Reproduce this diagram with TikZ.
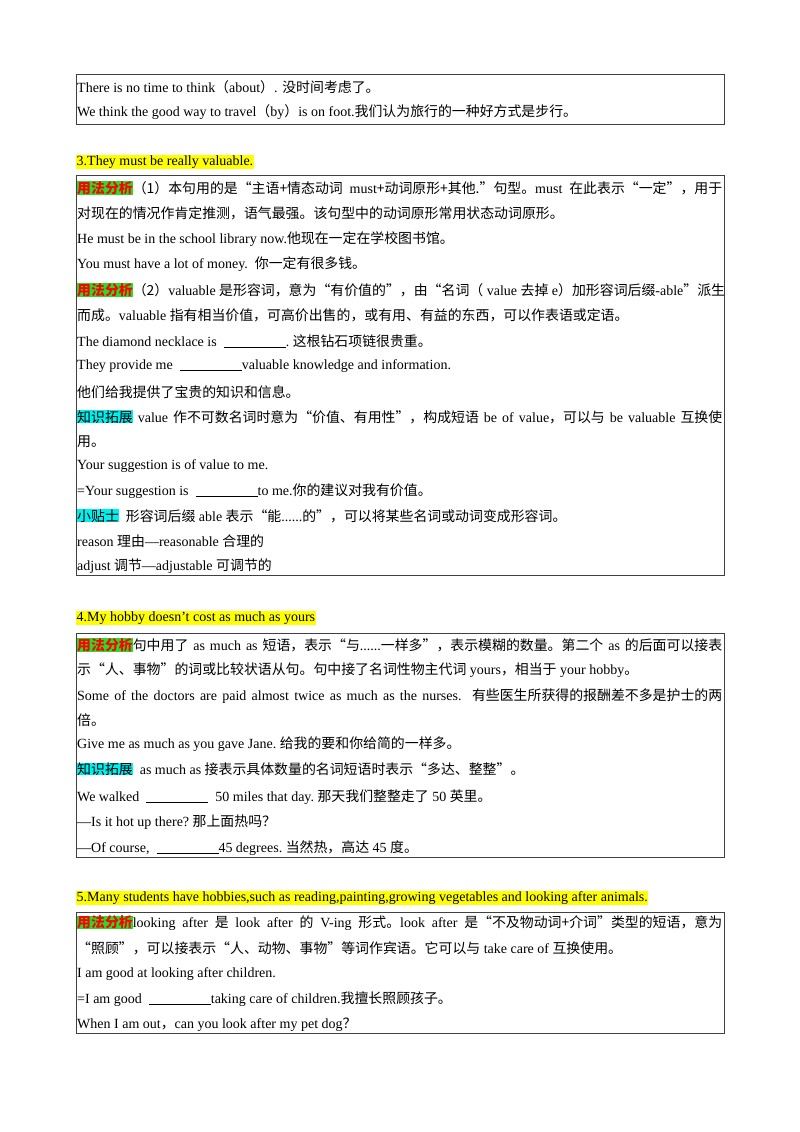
\documentclass[tikz,border=0pt]{standalone}
\usepackage{fontspec}
\setmainfont{Liberation Serif}
\newfontfamily\cjk{Noto Sans CJK SC}
\definecolor{hlg}{RGB}{40,220,40}
\definecolor{hlc}{RGB}{0,240,240}
\definecolor{hly}{RGB}{255,255,0}
\newcommand\z[1]{{\cjk\fontsize{13.9}{15}\selectfont #1}}
\newcommand\yf{{\setlength\fboxsep{0pt}\colorbox{hlg}{\textcolor{red}{\z{\bfseries 用法分析}}}}}
\newcommand\zs{{\setlength\fboxsep{0pt}\colorbox{hlc}{\z{知识拓展}}}}
\newcommand\xt{{\setlength\fboxsep{0pt}\colorbox{hlc}{\z{小贴士}}}}
\newcommand\bl{\rule[-1.5pt]{62pt}{0.7pt}}
\newcommand\J[1]{\makebox[645pt][s]{#1}}
\newcounter{ln}
\newcommand\Ln[2]{\stepcounter{ln}\node[ln] (l\arabic{ln}) at (77,#1) {#2};}
\tikzset{ln/.style={anchor=west,inner sep=0pt,font=\fontsize{14}{15}\selectfont},
  hd/.style={anchor=west,inner sep=0.5pt,fill=hly,font=\fontsize{14}{15}\selectfont},
  bx/.style={draw=black!75,line width=0.9pt}}
\begin{document}
\begin{tikzpicture}[x=1pt,y=-1pt]
\useasboundingbox[fill=white] (0,0) rectangle (800,1132);
% box 1
\draw[bx] (76,74) rectangle (724,124);
\Ln{87}{There is no time to think\z{（}about\z{）}. \z{没时间考虑了。}}
\Ln{112}{We think the good way to travel\z{（}by\z{）}is on foot.\z{我们认为旅行的一种好方式是步行。}}
% heading 3
\node[hd] (h3) at (76,162) {3.They must be really valuable.};
\draw[bx] (76,175) rectangle (724,575);
\Ln{188}{\J{\yf\z{（1）本句用的是“主语+情态动词} must\z{+动词原形+其他.”句型。}must \z{在此表示“一定”，用于}}}
\Ln{213}{\z{对现在的情况作肯定推测，语气最强。该句型中的动词原形常用状态动词原形。}}
\Ln{239}{He must be in the school library now.\z{他现在一定在学校图书馆。}}
\Ln{264}{You must have a lot of money.\ \ \z{你一定有很多钱。}}
\Ln{290}{\yf\z{（2）}valuable \z{是形容词，意为“有价值的”，由“名词（} value \z{去掉} e\z{）加形容词后缀}-able\z{”派生}}
\Ln{315}{\z{而成。}valuable \z{指有相当价值，可高价出售的，或有用、有益的东西，可以作表语或定语。}}
\Ln{341}{The diamond necklace is \ \bl.\ \z{这根钻石项链很贵重。}}
\Ln{366}{They provide me \ \bl valuable knowledge and information.}
\Ln{392}{\z{他们给我提供了宝贵的知识和信息。}}
\Ln{417}{\J{\zs\ value \z{作不可数名词时意为“价值、有用性”，构成短语} be of value\z{，可以与} be valuable \z{互换使}}}
\Ln{442}{\z{用。}}
\Ln{466}{Your suggestion is of value to me.}
\Ln{491}{=Your suggestion is \ \bl to me.\z{你的建议对我有价值。}}
\Ln{516}{\xt\ \ \z{形容词后缀} able \z{表示“能}......\z{的”，可以将某些名词或动词变成形容词。}}
\Ln{541}{reason \z{理由}---reasonable \z{合理的}}
\Ln{566}{adjust \z{调节}---adjustable \z{可调节的}}
% heading 4
\node[hd] (h4) at (76,618) {4.My hobby doesn’t cost as much as yours};
\draw[bx] (76,633) rectangle (724,857);
\Ln{645}{\J{\yf\z{句中用了} as much as \z{短语，表示“与}......\z{一样多”，表示模糊的数量。第二个} as \z{的后面可以接表}}}
\Ln{670}{\z{示“人、事物”的词或比较状语从句。句中接了名词性物主代词} yours\z{，相当于} your hobby\z{。}}
\Ln{696}{\J{Some of the doctors are paid almost twice as much as the nurses.\ \ \z{有些医生所获得的报酬差不多是护士的两}}}
\Ln{720}{\z{倍。}}
\Ln{744}{Give me as much as you gave Jane.\ \z{给我的要和你给简的一样多。}}
\Ln{769}{\zs\ \ as much as \z{接表示具体数量的名词短语时表示“多达、整整”。}}
\Ln{797}{We walked \ \bl\ \ 50 miles that day.\ \z{那天我们整整走了} 50 \z{英里。}}
\Ln{822}{---Is it hot up there?\ \z{那上面热吗？}}
\Ln{848}{---Of course,\ \ \bl 45 degrees.\ \z{当然热，高达} 45 \z{度。}}
% heading 5
\node[hd] (h5) at (76,898) {5.Many students have hobbies,such as reading,painting,growing vegetables and looking after animals.};
\draw[bx] (76,912) rectangle (724,1033);
\Ln{923}{\J{\yf looking after \z{是} look after \z{的} V-ing \z{形式。}look after \z{是“不及物动词+介词”类型的短语，意为}}}
\Ln{948}{\z{“照顾”，可以接表示“人、动物、事物”等词作宾语。它可以与} take care of \z{互换使用。}}
\Ln{974}{I am good at looking after children.}
\Ln{999}{=I am good \ \bl taking care of children.\z{我擅长照顾孩子。}}
\Ln{1025}{When I am out\z{，}can you look after my pet dog\z{？}}
\end{tikzpicture}
\end{document}
